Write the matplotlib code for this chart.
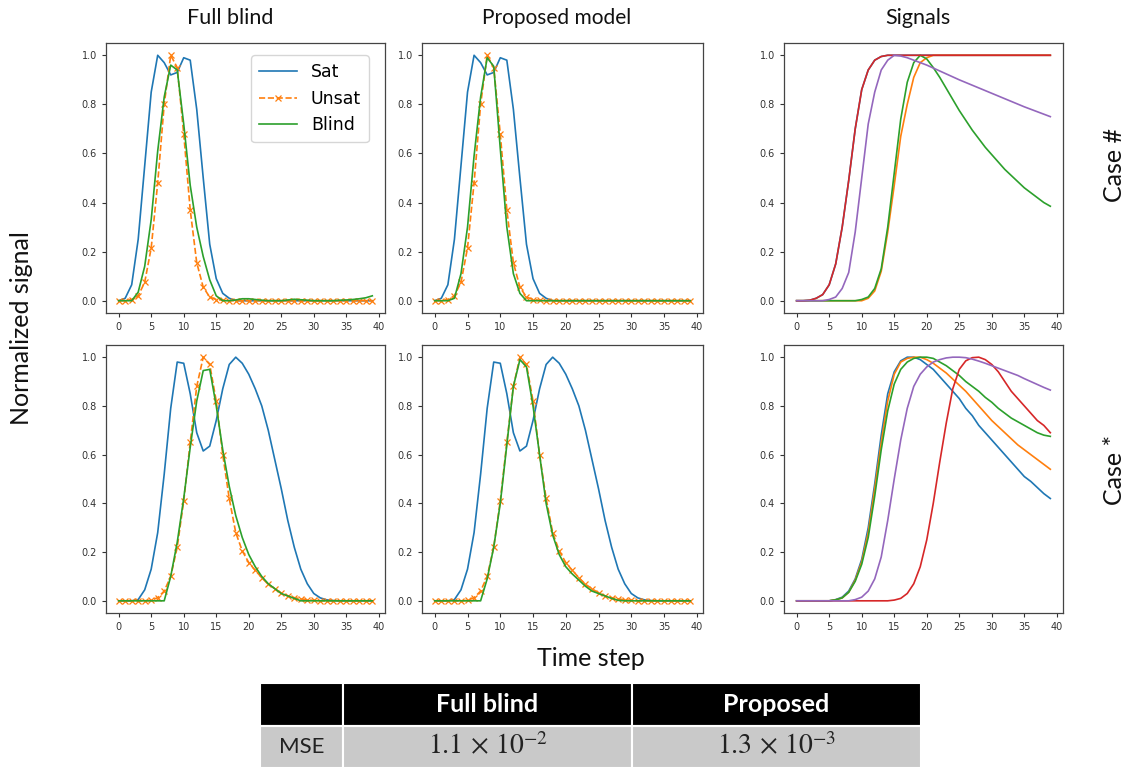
"""
Saturation recovery figure
==========================

Two test cases (rows "Case #" and "Case *"), each shown three ways:

 1. Full blind      - saturated / unsaturated signal and the full-blind estimate
 2. Proposed model  - same signals, estimate from the proposed model
 3. Signals         - the normalized input signals used for the case

A small MSE table sits under the grid. Output goes to out.png.
"""

import numpy as np

import matplotlib

matplotlib.use("Agg")  # no display in the sandbox
import matplotlib.pyplot as plt

FIG_W, FIG_H = 1128, 770
TEXT_FONT = ["Lato", "DejaVu Sans"]

# ---------------------------------------------------------------------------
# data
# ---------------------------------------------------------------------------
TIME = np.arange(40)

# Case # : recovery panels
hash_sat = [0.0, 0.01, 0.065, 0.25, 0.55, 0.85, 1.0, 0.97, 0.92, 0.93,
            0.99, 0.98, 0.78, 0.5, 0.23, 0.09, 0.03, 0.01, 0.0, 0.0,
            0.0, 0.0, 0.0, 0.0, 0.0, 0.0, 0.0, 0.0, 0.0, 0.0,
            0.0, 0.0, 0.0, 0.0, 0.0, 0.0, 0.0, 0.0, 0.0, 0.0]
hash_unsat = [0.0, 0.0, 0.005, 0.02, 0.075, 0.215, 0.48, 0.8, 1.0, 0.95,
              0.68, 0.37, 0.155, 0.055, 0.015, 0.005, 0.002, 0.0, 0.0, 0.0,
              0.0, 0.0, 0.0, 0.0, 0.0, 0.0, 0.0, 0.0, 0.0, 0.0,
              0.0, 0.0, 0.0, 0.0, 0.0, 0.0, 0.0, 0.0, 0.0, 0.0]
hash_blind_full = [0.0, 0.0, 0.0, 0.035, 0.14, 0.33, 0.61, 0.83, 0.96, 0.94,
                   0.72, 0.47, 0.3, 0.18, 0.085, 0.02, 0.0, 0.0, 0.003, 0.008,
                   0.008, 0.005, 0.002, 0.0, 0.0, 0.0, 0.003, 0.006, 0.004, 0.002,
                   0.0, 0.0, 0.0, 0.0, 0.002, 0.003, 0.005, 0.008, 0.012, 0.02]
hash_blind_prop = [0.0, 0.0, 0.0, 0.01, 0.11, 0.3, 0.59, 0.83, 0.99, 0.955,
                   0.62, 0.3, 0.11, 0.03, 0.0, 0.0, 0.0, 0.0, 0.0, 0.0,
                   0.0, 0.0, 0.0, 0.0, 0.0, 0.0, 0.0, 0.0, 0.0, 0.0,
                   0.0, 0.0, 0.0, 0.0, 0.0, 0.0, 0.0, 0.0, 0.0, 0.0]

# Case * : recovery panels
star_sat = [0.0, 0.0, 0.0, 0.005, 0.045, 0.13, 0.28, 0.52, 0.79, 0.98,
            0.975, 0.85, 0.69, 0.615, 0.635, 0.74, 0.87, 0.97, 1.0, 0.975,
            0.93, 0.87, 0.8, 0.7, 0.58, 0.46, 0.33, 0.22, 0.13, 0.07,
            0.03, 0.012, 0.004, 0.001, 0.0, 0.0, 0.0, 0.0, 0.0, 0.0]
star_unsat = [0.0, 0.0, 0.0, 0.0, 0.0, 0.002, 0.013, 0.04, 0.1, 0.22,
              0.41, 0.65, 0.88, 1.0, 0.97, 0.82, 0.6, 0.42, 0.28, 0.205,
              0.157, 0.125, 0.095, 0.068, 0.05, 0.032, 0.02, 0.013, 0.008, 0.004,
              0.002, 0.0, 0.0, 0.0, 0.0, 0.0, 0.0, 0.0, 0.0, 0.0]
star_blind_full = [0.0, 0.0, 0.0, 0.0, 0.0, 0.0, 0.0, 0.0, 0.1, 0.24,
                   0.42, 0.63, 0.82, 0.945, 0.95, 0.8, 0.62, 0.47, 0.35, 0.26,
                   0.19, 0.14, 0.1, 0.07, 0.05, 0.03, 0.02, 0.01, 0.0, 0.0,
                   0.0, 0.0, 0.0, 0.0, 0.0, 0.0, 0.0, 0.0, 0.0, 0.0]
star_blind_prop = [0.0, 0.0, 0.0, 0.0, 0.0, 0.0, 0.0, 0.0, 0.09, 0.22,
                   0.4, 0.64, 0.88, 0.99, 0.96, 0.8, 0.6, 0.4, 0.27, 0.19,
                   0.14, 0.11, 0.085, 0.06, 0.04, 0.03, 0.02, 0.01, 0.002, 0.0,
                   0.0, 0.0, 0.0, 0.0, 0.0, 0.0, 0.0, 0.0, 0.0, 0.0]

# Case # : input signals (blue sits exactly under red)
hash_sig_red = [0.0, 0.0, 0.002, 0.01, 0.025, 0.065, 0.15, 0.3, 0.49, 0.7,
                0.86, 0.94, 0.98, 0.995, 1.0, 1.0, 1.0, 1.0, 1.0, 1.0,
                1.0, 1.0, 1.0, 1.0, 1.0, 1.0, 1.0, 1.0, 1.0, 1.0,
                1.0, 1.0, 1.0, 1.0, 1.0, 1.0, 1.0, 1.0, 1.0, 1.0]
hash_sig_blue = list(hash_sig_red)
hash_sig_orange = [0.0, 0.0, 0.0, 0.0, 0.0, 0.0, 0.0, 0.0, 0.0, 0.0,
                   0.0, 0.01, 0.04, 0.12, 0.28, 0.47, 0.67, 0.8, 0.91, 0.97,
                   0.99, 1.0, 1.0, 1.0, 1.0, 1.0, 1.0, 1.0, 1.0, 1.0,
                   1.0, 1.0, 1.0, 1.0, 1.0, 1.0, 1.0, 1.0, 1.0, 1.0]
hash_sig_green = [0.0, 0.0, 0.0, 0.0, 0.0, 0.0, 0.0, 0.0, 0.0, 0.0,
                  0.005, 0.015, 0.05, 0.13, 0.3, 0.52, 0.74, 0.89, 0.97, 1.0,
                  0.985, 0.95, 0.91, 0.865, 0.82, 0.775, 0.735, 0.695, 0.66, 0.625,
                  0.595, 0.565, 0.535, 0.51, 0.485, 0.46, 0.44, 0.42, 0.4, 0.385]
hash_sig_purple = [0.0, 0.0, 0.0, 0.0, 0.0, 0.005, 0.015, 0.05, 0.115, 0.28,
                   0.5, 0.72, 0.85, 0.94, 0.98, 1.0, 0.997, 0.99, 0.98, 0.97,
                   0.96, 0.948, 0.936, 0.924, 0.912, 0.9, 0.889, 0.878, 0.867, 0.856,
                   0.845, 0.834, 0.823, 0.812, 0.801, 0.79, 0.78, 0.77, 0.76, 0.75]

# Case * : input signals
star_sig_blue = [0.0, 0.0, 0.0, 0.0, 0.0, 0.0, 0.005, 0.015, 0.04, 0.09,
                 0.17, 0.3, 0.48, 0.68, 0.85, 0.94, 0.985, 1.0, 1.0, 0.99,
                 0.97, 0.95, 0.92, 0.89, 0.86, 0.83, 0.79, 0.76, 0.72, 0.69,
                 0.66, 0.63, 0.6, 0.57, 0.54, 0.51, 0.49, 0.465, 0.44, 0.42]
star_sig_orange = [0.0, 0.0, 0.0, 0.0, 0.0, 0.0, 0.004, 0.012, 0.035, 0.085,
                   0.16, 0.28, 0.46, 0.65, 0.82, 0.93, 0.98, 0.995, 1.0, 1.0,
                   0.99, 0.975, 0.955, 0.935, 0.91, 0.885, 0.86, 0.83, 0.8, 0.77,
                   0.74, 0.715, 0.69, 0.665, 0.64, 0.62, 0.6, 0.58, 0.56, 0.54]
star_sig_green = [0.0, 0.0, 0.0, 0.0, 0.0, 0.0, 0.004, 0.012, 0.035, 0.08,
                  0.15, 0.26, 0.43, 0.62, 0.78, 0.89, 0.95, 0.98, 0.995, 1.0,
                  1.0, 0.995, 0.98, 0.965, 0.945, 0.925, 0.9, 0.88, 0.86, 0.835,
                  0.815, 0.79, 0.77, 0.75, 0.735, 0.72, 0.705, 0.69, 0.68, 0.675]
star_sig_red = [0.0, 0.0, 0.0, 0.0, 0.0, 0.0, 0.0, 0.0, 0.0, 0.0,
                0.0, 0.0, 0.0, 0.0, 0.0, 0.003, 0.01, 0.03, 0.07, 0.14,
                0.25, 0.4, 0.57, 0.73, 0.87, 0.95, 0.985, 0.998, 1.0, 0.99,
                0.97, 0.94, 0.9, 0.86, 0.83, 0.8, 0.77, 0.74, 0.72, 0.69]
star_sig_purple = [0.0, 0.0, 0.0, 0.0, 0.0, 0.0, 0.0, 0.0, 0.0, 0.005,
                   0.015, 0.04, 0.09, 0.18, 0.33, 0.5, 0.66, 0.79, 0.88, 0.93,
                   0.96, 0.98, 0.99, 0.997, 1.0, 1.0, 0.998, 0.992, 0.984, 0.975,
                   0.965, 0.955, 0.945, 0.935, 0.925, 0.912, 0.9, 0.888, 0.876, 0.865]

# MSE table
TABLE_HEADER = ["", "Full blind", "Proposed"]
TABLE_ROW = ["MSE", r"$1.1\,\times\,10^{-2}$", r"$1.3\,\times\,10^{-3}$"]


# ---------------------------------------------------------------------------
# helpers
# ---------------------------------------------------------------------------
def px_axes(fig, left, top, right, bottom):
    """Add an axes given its box in pixels (origin top-left)."""
    return fig.add_axes([left / FIG_W, 1 - bottom / FIG_H,
                         (right - left) / FIG_W, (bottom - top) / FIG_H])


def style_axes(ax):
    ax.set_xticks(range(0, 41, 5))
    ax.set_yticks(np.arange(0, 1.01, 0.2))
    ax.tick_params(labelsize=7, colors="#333333", length=3, width=0.8)
    for spine in ax.spines.values():
        spine.set_color("#444444")
        spine.set_linewidth(0.9)


def draw_recovery(ax, sat, unsat, blind, legend=False):
    ax.plot(TIME, sat, color="tab:blue", lw=1.2, label="Sat")
    ax.plot(TIME, unsat, color="tab:orange", lw=1.2, ls="--",
            marker="x", ms=4, mew=0.9, label="Unsat")
    ax.plot(TIME, blind, color="tab:green", lw=1.2, label="Blind")
    style_axes(ax)
    if legend:
        ax.legend(loc="upper left", bbox_to_anchor=(0.52, 0.955),
                  borderaxespad=0, fontsize=12.5, handlelength=2.2,
                  borderpad=0.45, labelspacing=0.5)


def draw_signals(ax, curves):
    for values, color in curves:
        ax.plot(TIME, values, color=color, lw=1.2)
    style_axes(ax)


# ---------------------------------------------------------------------------
# figure
# ---------------------------------------------------------------------------
def main() -> None:
    plt.rcParams["mathtext.fontset"] = "stix"
    fig = plt.figure(figsize=(FIG_W / 100, FIG_H / 100), dpi=100)

    cols = [(106, 385), (422, 703), (784, 1063)]
    rows = [(43, 313), (345, 613)]

    recovery = [
        (hash_sat, hash_unsat, hash_blind_full, hash_blind_prop),
        (star_sat, star_unsat, star_blind_full, star_blind_prop),
    ]
    signals = [
        [(hash_sig_blue, "tab:blue"), (hash_sig_orange, "tab:orange"),
         (hash_sig_green, "tab:green"), (hash_sig_red, "tab:red"),
         (hash_sig_purple, "tab:purple")],
        [(star_sig_blue, "tab:blue"), (star_sig_orange, "tab:orange"),
         (star_sig_green, "tab:green"), (star_sig_red, "tab:red"),
         (star_sig_purple, "tab:purple")],
    ]

    for r, (top, bottom) in enumerate(rows):
        sat, unsat, blind_full, blind_prop = recovery[r]
        ax = px_axes(fig, cols[0][0], top, cols[0][1], bottom)
        draw_recovery(ax, sat, unsat, blind_full, legend=(r == 0))
        ax = px_axes(fig, cols[1][0], top, cols[1][1], bottom)
        draw_recovery(ax, sat, unsat, blind_prop)
        ax = px_axes(fig, cols[2][0], top, cols[2][1], bottom)
        draw_signals(ax, signals[r])

    # column titles, shared labels, row labels
    def ftext(x, y, s, **kw):
        fig.text(x / FIG_W, 1 - y / FIG_H, s, ha="center", va="center",
                 family=TEXT_FONT, color="#111111", **kw)

    ftext(230, 18, "Full blind", fontsize=15.5)
    ftext(557, 18, "Proposed model", fontsize=15)
    ftext(918, 18, "Signals", fontsize=15.5)
    ftext(22, 328, "Normalized signal", fontsize=18, rotation=90)
    ftext(591, 658, "Time step", fontsize=18)
    ftext(1114, 165, "Case #", fontsize=18, rotation=90)
    ftext(1114, 470, "Case *", fontsize=18, rotation=90)

    # MSE table
    tax = px_axes(fig, 260, 683, 921, 768)
    tax.axis("off")
    table = tax.table(cellText=[TABLE_ROW], colLabels=TABLE_HEADER,
                      colWidths=[83 / 661, 289 / 661, 289 / 661],
                      cellLoc="center", bbox=[0, 0, 1, 1])
    table.auto_set_font_size(False)
    for (row, col), cell in table.get_celld().items():
        cell.set_edgecolor("white")
        cell.set_linewidth(1.5)
        text = cell.get_text()
        if row == 0:
            cell.set_facecolor("black")
            text.set_color("white")
            text.set_fontweight("bold")
            text.set_fontfamily(TEXT_FONT)
            text.set_fontsize(18)
        else:
            cell.set_facecolor("#c9c9c9")
            text.set_color("#222222")
            if col == 0:
                text.set_fontfamily(TEXT_FONT)
                text.set_fontsize(16)
            else:
                text.set_fontsize(20)

    fig.savefig("out.png", dpi=100)
    plt.close(fig)


if __name__ == "__main__":
    main()
